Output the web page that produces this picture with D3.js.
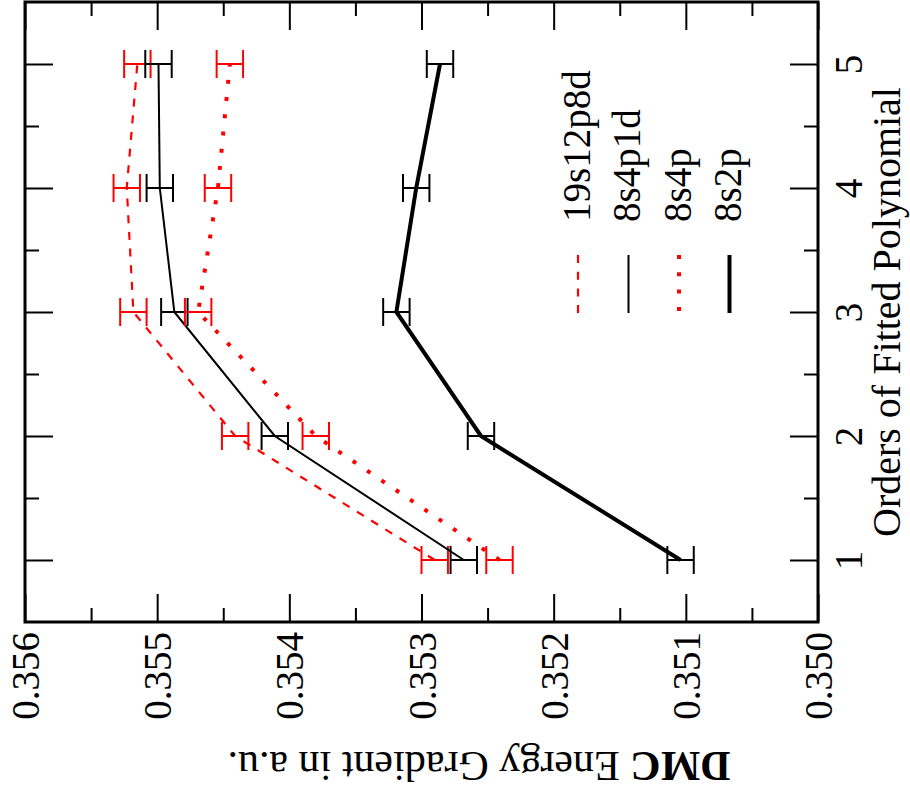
<!DOCTYPE html>
<html>
<head>
<meta charset="utf-8">
<script src="https://cdn.jsdelivr.net/npm/d3@7"></script>
<style>
  body { margin: 0; background: #fff; }
  svg { display: block; }
</style>
</head>
<body>
<div id="chart"></div>
<script>
// ---------- data ----------
var orders = [1, 2, 3, 4, 5];
var seriesNames = ["19s12p8d", "8s4p1d", "8s4p", "8s2p"];

var grad19s12p8d = [0.35290, 0.35441, 0.35518, 0.35523, 0.35515];
var grad8s4p1d   = [0.35268, 0.35411, 0.35487, 0.35498, 0.35499];
var grad8s4p     = [0.35241, 0.35380, 0.35469, 0.35454, 0.35445];
var grad8s2p     = [0.35104, 0.35255, 0.35319, 0.35304, 0.35286];

var err19s12p8d = [0.00010, 0.00010, 0.00010, 0.00010, 0.00010];
var err8s4p1d   = [0.00010, 0.00010, 0.00010, 0.00010, 0.00010];
var err8s4p     = [0.00010, 0.00010, 0.00010, 0.00010, 0.00010];
var err8s2p     = [0.00010, 0.00010, 0.00010, 0.00010, 0.00010];

var gradTicks  = [0.356, 0.355, 0.354, 0.353, 0.352, 0.351, 0.350];
var gradMinor  = [0.3555, 0.3545, 0.3535, 0.3525, 0.3515, 0.3505];
var orderMinor = [1.5, 2.5, 3.5, 4.5];

(function() {
var SERIF = "'Liberation Serif', 'Times New Roman', Times, serif";

// ---------- layout ----------
var W = 910, H = 792;
var pLeft = 25, pRight = 818, pTop = 2, pBottom = 622;

var svg = d3.select("#chart").append("svg")
    .attr("width", W).attr("height", H);

// the plot is turned on its side: gradient runs left->right (high to low),
// polynomial order runs bottom->top
var x = d3.scaleLinear().domain([0.356, 0.350]).range([pLeft, pRight]);
var y = d3.scaleLinear().domain([0.5, 5.5]).range([pBottom, pTop]);

var series = [
  { name: seriesNames[0], vals: grad19s12p8d, errs: err19s12p8d, color: "#ff0000", width: 2.2, dash: "8,8.7" },
  { name: seriesNames[1], vals: grad8s4p1d,   errs: err8s4p1d,   color: "#000000", width: 2,   dash: null },
  { name: seriesNames[2], vals: grad8s4p,     errs: err8s4p,     color: "#ff0000", width: 4,   dash: "4,13.3" },
  { name: seriesNames[3], vals: grad8s2p,     errs: err8s2p,     color: "#000000", width: 4,   dash: null }
];

//////////// AXES ////////////

function styleTicks(g) {
  g.select(".domain").remove();
  g.selectAll(".tick line").attr("stroke", "#000").attr("stroke-width", 2);
}

// gradient axis (bottom, with labels)
var gBottom = svg.append("g")
    .attr("transform", "translate(0," + pBottom + ")")
    .call(d3.axisBottom(x).tickValues(gradTicks).tickSize(-28).tickSizeOuter(0)
          .tickFormat(d3.format(".3f")))
    .call(styleTicks);
gBottom.attr("font-family", SERIF).attr("font-size", 39);
gBottom.selectAll(".tick text")
    .attr("transform", "rotate(-90)")
    .attr("x", -10).attr("y", 0).attr("dy", "0.35em")
    .attr("text-anchor", "end")
    .attr("fill", "#000")
    .attr("font-family", SERIF)
    .attr("font-size", 39);

svg.append("g")
    .attr("transform", "translate(0," + pBottom + ")")
    .call(d3.axisBottom(x).tickValues(gradMinor).tickSize(-14).tickFormat(""))
    .call(styleTicks);

// mirrored on top
svg.append("g")
    .attr("transform", "translate(0," + pTop + ")")
    .call(d3.axisTop(x).tickValues(gradTicks).tickSize(-28).tickFormat(""))
    .call(styleTicks);
svg.append("g")
    .attr("transform", "translate(0," + pTop + ")")
    .call(d3.axisTop(x).tickValues(gradMinor).tickSize(-14).tickFormat(""))
    .call(styleTicks);

// order axis (right side, with labels)
var gRight = svg.append("g")
    .attr("transform", "translate(" + pRight + ",0)")
    .call(d3.axisRight(y).tickValues(orders).tickSize(-28).tickFormat(d3.format("d")))
    .call(styleTicks);
gRight.attr("font-family", SERIF).attr("font-size", 39);
gRight.selectAll(".tick text")
    .attr("transform", "rotate(-90)")
    .attr("x", 0).attr("y", 44).attr("dy", 0)
    .attr("text-anchor", "middle")
    .attr("fill", "#000")
    .attr("font-family", SERIF)
    .attr("font-size", 39);

svg.append("g")
    .attr("transform", "translate(" + pRight + ",0)")
    .call(d3.axisRight(y).tickValues(orderMinor).tickSize(-14).tickFormat(""))
    .call(styleTicks);

// mirrored on left
svg.append("g")
    .attr("transform", "translate(" + pLeft + ",0)")
    .call(d3.axisLeft(y).tickValues(orders).tickSize(-28).tickFormat(""))
    .call(styleTicks);
svg.append("g")
    .attr("transform", "translate(" + pLeft + ",0)")
    .call(d3.axisLeft(y).tickValues(orderMinor).tickSize(-14).tickFormat(""))
    .call(styleTicks);

// axis titles
svg.append("text")
    .attr("transform", "translate(900," + ((pTop + pBottom) / 2) + ") rotate(-90)")
    .attr("text-anchor", "middle")
    .attr("font-family", SERIF)
    .attr("font-size", 40)
    .text("Orders of Fitted Polynomial");

var ylab = svg.append("text")
    .attr("transform", "translate(479,752) rotate(180)")
    .attr("text-anchor", "middle")
    .attr("font-family", SERIF)
    .attr("font-size", 42);
ylab.append("tspan").attr("font-weight", "bold").text("DMC");
ylab.append("tspan").text(" Energy Gradient in a.u.");

//////////// DATA ////////////

var line = d3.line()
    .x(function(d) { return x(d.v); })
    .y(function(d) { return y(d.o); });

var cap = 14;

series.forEach(function(s) {
  var pts = orders.map(function(o, i) { return { o: o, v: s.vals[i], e: s.errs[i] }; });

  var bars = svg.append("g").attr("stroke", s.color).attr("stroke-width", 2);
  pts.forEach(function(p) {
    var yy = y(p.o), x0 = x(p.v + p.e), x1 = x(p.v - p.e);
    bars.append("line").attr("x1", x0).attr("x2", x1).attr("y1", yy).attr("y2", yy);
    bars.append("line").attr("x1", x0).attr("x2", x0).attr("y1", yy - cap).attr("y2", yy + cap);
    bars.append("line").attr("x1", x1).attr("x2", x1).attr("y1", yy - cap).attr("y2", yy + cap);
  });

  svg.append("path")
      .datum(pts)
      .attr("fill", "none")
      .attr("stroke", s.color)
      .attr("stroke-width", s.width)
      .attr("stroke-dasharray", s.dash)
      .attr("d", line);
});

//////////// LEGEND ////////////

var legX0 = 578, legStep = 50.5, legTextStart = 222, legLineTop = 255, legLineBottom = 313;
series.forEach(function(s, i) {
  var lx = legX0 + i * legStep;
  svg.append("text")
      .attr("transform", "translate(" + lx + "," + legTextStart + ") rotate(-90)")
      .attr("text-anchor", "start")
      .attr("dy", "0.3em")
      .attr("font-family", SERIF)
      .attr("font-size", 39)
      .text(s.name);
  svg.append("line")
      .attr("x1", lx).attr("x2", lx)
      .attr("y1", legLineTop).attr("y2", legLineBottom)
      .attr("stroke", s.color)
      .attr("stroke-width", s.width)
      .attr("stroke-dasharray", s.dash);
});

// frame
svg.append("rect")
    .attr("x", pLeft).attr("y", pTop)
    .attr("width", pRight - pLeft).attr("height", pBottom - pTop)
    .attr("fill", "none").attr("stroke", "#000").attr("stroke-width", 3);
})();
</script>
</body>
</html>
